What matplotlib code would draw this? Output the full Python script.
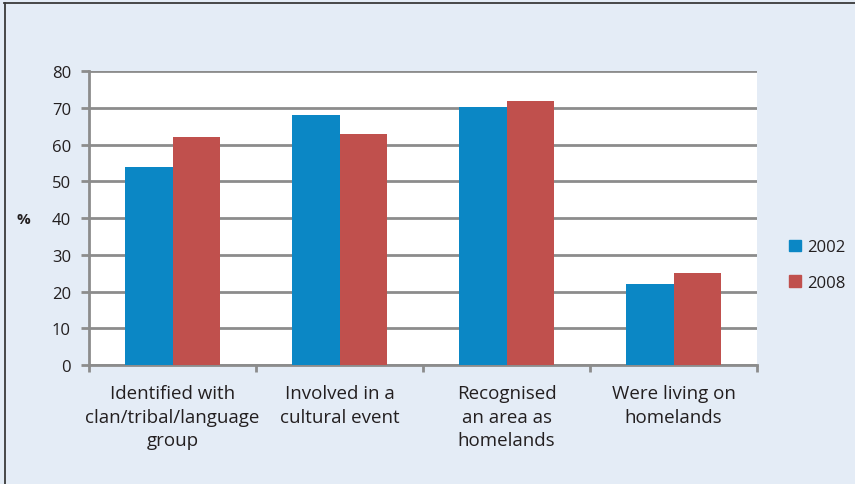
import numpy as np
import matplotlib.pyplot as plt
from matplotlib.lines import Line2D
from matplotlib.patches import Patch

plt.rcParams['font.family'] = ['Open Sans', 'DejaVu Sans']

categories = ['Identified with\nclan/tribal/language\ngroup',
              'Involved in a\ncultural event',
              'Recognised\nan area as\nhomelands',
              'Were living on\nhomelands']
years = ['2002', '2008']
vals_2002 = [54.0, 68.2, 70.3, 22.0]
vals_2008 = [62.2, 63.0, 71.8, 25.1]

bg = '#e4ecf6'
blue = '#0b87c5'
red = '#c0504d'
grid_col = '#8c8c8c'
txt = '#231f20'

fig = plt.figure(figsize=(8.55, 4.85), dpi=100, facecolor=bg)
ax = fig.add_axes([89 / 855, 119 / 485, 668 / 855, 293.7 / 485])
ax.set_facecolor('white')

x = np.arange(len(categories))
w = 0.285
ax.bar(x - w / 2, vals_2002, w, color=blue, zorder=3, label=years[0])
ax.bar(x + w / 2, vals_2008, w, color=red, zorder=3, label=years[1])

ax.set_xlim(-0.5, len(categories) - 0.5)
ax.set_ylim(0, 80)
ax.set_yticks(range(0, 81, 10))
ax.yaxis.grid(True, color=grid_col, lw=2, zorder=1)
ax.set_axisbelow(True)

# boundaries between categories carry the tick marks, centres carry the labels
ax.set_xticks(np.arange(-0.5, len(categories)), labels=[])
ax.set_xticks(x, labels=categories, minor=True)
ax.tick_params(axis='x', which='major', length=5, width=2, color=grid_col)
ax.tick_params(axis='x', which='minor', length=0, pad=14, labelsize=13.5, labelcolor=txt)
for lab in ax.get_xticklabels(minor=True):
    lab.set_linespacing(1.38)
ax.tick_params(axis='y', length=6, width=2, color=grid_col, pad=7, labelsize=12, labelcolor=txt)

for s in ['top', 'right']:
    ax.spines[s].set_visible(False)
for s in ['left', 'bottom']:
    ax.spines[s].set_color(grid_col)
    ax.spines[s].set_linewidth(2)

fig.text(23 / 855, 1 - 220 / 485, '%', ha='center', va='center',
         fontsize=11, fontweight='bold', color=txt)

handles = [Patch(color=blue), Patch(color=red)]
fig.legend(handles, years, loc='center left', bbox_to_anchor=(789 / 855, 1 - 266 / 485),
           frameon=False, fontsize=12, handlelength=0.7, handleheight=0.7,
           handletextpad=0.4, labelspacing=1.15, labelcolor=txt,
           borderpad=0, borderaxespad=0)

# frame edges along the top and left of the panel
fig.add_artist(Line2D([4 / 855, 1], [1 - 4 / 485] * 2, color='#3a3a3a', lw=1.3,
                      transform=fig.transFigure))
fig.add_artist(Line2D([5 / 855] * 2, [0, 1 - 4 / 485], color='#3a3a3a', lw=1.3,
                      transform=fig.transFigure))

fig.savefig('out.png', dpi=100, facecolor=bg)
